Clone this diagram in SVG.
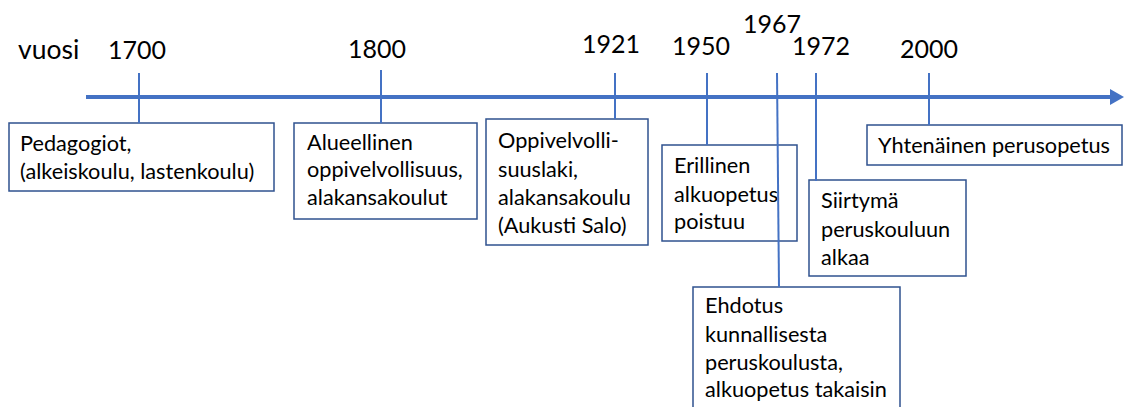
<svg xmlns="http://www.w3.org/2000/svg" width="1124" height="407" viewBox="0 0 1124 407">
<style>
.box{fill:#fff;stroke:#2F528F;stroke-width:1.5}
.t{font-family:Lato,"Liberation Sans",sans-serif;font-size:21.7px;fill:#000}
.y{font-family:Lato,"Liberation Sans",sans-serif;font-size:25px;fill:#000}
.tick{stroke:#4472C4;stroke-width:2;fill:none}
.axis{stroke:#4472C4;stroke-width:4;fill:none}
</style>
<rect width="1124" height="407" fill="#fff"/>
<g id="labels">
<text class="y" x="18" y="59" style="font-size:26.5px">vuosi</text>
<text class="y" x="108" y="59">1700</text>
<text class="y" x="348" y="58">1800</text>
<text class="y" x="582" y="53">1921</text>
<text class="y" x="672" y="55">1950</text>
<text class="y" x="743" y="33">1967</text>
<text class="y" x="792" y="55">1972</text>
<text class="y" x="900" y="58">2000</text>
</g>
<g id="n1700">
<rect class="box" x="9" y="123" width="265" height="68"/>
<text class="t" x="20" y="151">Pedagogiot,</text>
<text class="t" x="20" y="179">(alkeiskoulu, lastenkoulu)</text>
</g>
<g id="n1800">
<rect class="box" x="294" y="123" width="183" height="96"/>
<text class="t" x="307" y="150">Alueellinen</text>
<text class="t" x="307" y="177">oppivelvollisuus,</text>
<text class="t" x="307" y="205">alakansakoulut</text>
</g>
<g id="n1921">
<rect class="box" x="486" y="119" width="162" height="126"/>
<text class="t" x="498" y="148">Oppivelvolli-</text>
<text class="t" x="498" y="177">suuslaki,</text>
<text class="t" x="498" y="205">alakansakoulu</text>
<text class="t" x="498" y="233">(Aukusti Salo)</text>
</g>
<g id="n1950">
<rect class="box" x="662" y="145" width="135" height="96"/>
<text class="t" x="674" y="173">Erillinen</text>
<text class="t" x="674" y="202">alkuopetus</text>
<text class="t" x="674" y="229">poistuu</text>
</g>
<g id="n1972">
<rect class="box" x="809" y="180" width="157" height="96"/>
<text class="t" x="821" y="208">Siirtymä</text>
<text class="t" x="821" y="237">peruskouluun</text>
<text class="t" x="821" y="265">alkaa</text>
</g>
<g id="n2000">
<rect class="box" x="867" y="125" width="255" height="40"/>
<text class="t" x="878" y="153">Yhtenäinen perusopetus</text>
</g>
<g id="n1967">
<rect class="box" x="693" y="287" width="207" height="130"/>
<text class="t" x="705" y="313">Ehdotus</text>
<text class="t" x="705" y="342">kunnallisesta</text>
<text class="t" x="705" y="370">peruskoulusta,</text>
<text class="t" x="705" y="397">alkuopetus takaisin</text>
</g>
<g id="connectors">
<line class="axis" x1="86" y1="97" x2="1112" y2="97"/>
<polygon points="1110,89 1124,97 1110,105" fill="#4472C4"/>
<line class="tick" x1="139" y1="73" x2="139" y2="123"/>
<line class="tick" x1="381" y1="70" x2="381" y2="123"/>
<line class="tick" x1="615" y1="73" x2="615" y2="119"/>
<line class="tick" x1="707" y1="73" x2="707" y2="145"/>
<line class="tick" x1="777" y1="73" x2="779" y2="287"/>
<line class="tick" x1="816" y1="73" x2="816" y2="181"/>
<line class="tick" x1="929" y1="73" x2="929" y2="125"/>
</g>
</svg>
